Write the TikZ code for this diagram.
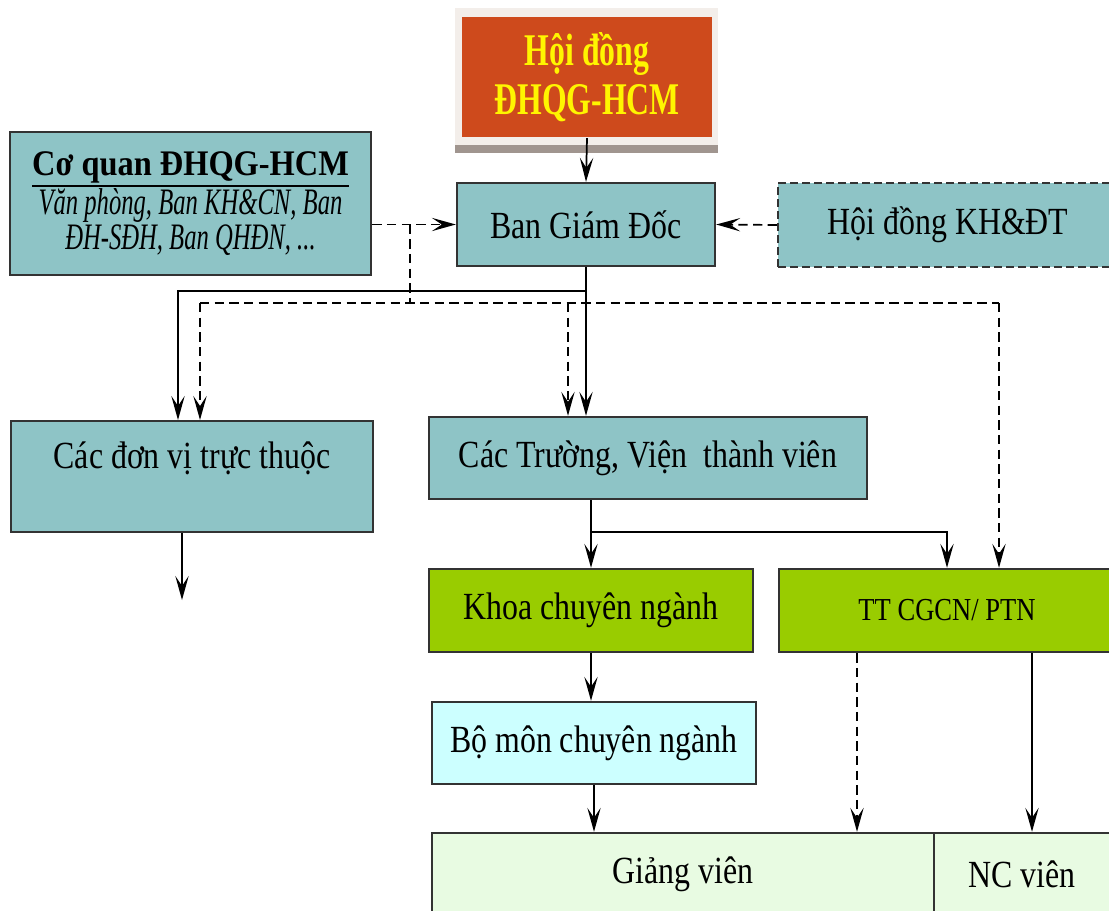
\documentclass[tikz,border=0pt]{standalone}
\usepackage{fontspec}
\setmainfont{Liberation Serif}
\usetikzlibrary{arrows.meta}

\definecolor{boxteal}{HTML}{8EC4C6}
\definecolor{boxgreen}{HTML}{99CC00}
\definecolor{boxcyan}{HTML}{CCFFFF}
\definecolor{boxmint}{HTML}{E8FBE2}
\definecolor{boxred}{HTML}{CE4A1C}
\definecolor{titleyellow}{HTML}{FFF500}
\definecolor{boxline}{HTML}{333333}
\definecolor{framelight}{HTML}{F3EEEA}
\definecolor{framebar}{HTML}{A0958F}

% tall, slightly narrowed text as in the slide
\newcommand{\tallfont}[3]{\fontsize{#1}{#2}\selectfont\addfontfeature{FakeStretch=#3}}
\newcommand{\thickul}[1]{\vtop{\hbox{#1}\kern1.2pt\hrule height 1.8pt}}

\tikzset{
  orgbox/.style={draw=boxline, line width=1.8pt, fill=boxteal, inner sep=0pt, align=center,
    font=\tallfont{28.8}{32}{0.83}},
  link/.style={line width=1.3pt, -{Stealth[length=18pt,width=10pt,inset=7.5pt]}},
  plainlink/.style={line width=1.3pt},
  dashlink/.style={link, dash pattern=on 7pt off 4pt},
  plaindash/.style={plainlink, dash pattern=on 7pt off 4pt},
}

\begin{document}
\begin{tikzpicture}[x=0.75pt,y=0.75pt,yscale=-1,xscale=1]
\useasboundingbox (0,0) rectangle (1109,910);
\clip (0,0) rectangle (1109,910);
\fill[white] (0,0) rectangle (1109,910);

%Shape: frame behind the council box
\fill[framelight] (455,8) rectangle (718,153);
\fill[framebar] (455,145) rectangle (718,153);

% Text Node
\node[orgbox, draw=none, fill=boxred, minimum width=187.5pt, minimum height=90pt, text=titleyellow,
  font=\bfseries\tallfont{34}{36.75}{0.7}] (hdong) at (587,77) {Hội đồng\\ĐHQG-HCM};
% Text Node
\node[orgbox, minimum width=193.5pt, minimum height=62.25pt] (bgd) at (586,224.5) {Ban Giám Đốc};
% Text Node
\node[orgbox, minimum width=270.75pt, minimum height=107.25pt, font=\tallfont{27}{26.25}{0.9}] (coquan) at (190.5,203.5)
  {\textbf{\thickul{Cơ quan ĐHQG-HCM}}\\
   {\itshape\tallfont{28}{26.25}{0.66}Văn phòng, Ban KH\&CN, Ban}\\
   {\itshape\tallfont{28}{26.25}{0.66}ĐH-SĐH, Ban QHĐN, ...}};
% Text Node
\node[orgbox, line width=1.5pt, dash pattern=on 6pt off 3pt, minimum width=255pt, minimum height=63pt] (hdkh) at (948,225) {Hội đồng KH\&ĐT};
% Text Node
\node[orgbox, anchor=north, minimum width=271.5pt, text height=35.25pt, text depth=48pt] (donvi) at (192,420) {Các đơn vị trực thuộc};
% Text Node
\node[orgbox, minimum width=328.5pt, minimum height=61.5pt] (truong) at (648,458) {Các Trường, Viện~ thành viên};
% Text Node
\node[orgbox, fill=boxgreen, minimum width=243pt, minimum height=62.25pt] (khoa) at (591,610.5) {Khoa chuyên ngành};
% Text Node
\node[orgbox, fill=boxgreen, minimum width=252pt, minimum height=62.25pt, font=\tallfont{24}{28}{0.83}] (ttcg) at (947,610.5) {TT CGCN/ PTN};
% Text Node
\node[orgbox, fill=boxcyan, minimum width=243pt, minimum height=61.5pt] (bomon) at (594,743) {Bộ môn chuyên ngành};
% Text Node
\node[orgbox, fill=boxmint, minimum width=376.5pt, minimum height=61.5pt] (giang) at (683,874) {Giảng viên};
% Text Node
\node[orgbox, fill=boxmint, minimum width=132pt, minimum height=61.5pt] (ncv) at (1022,874) {NC viên};

% bus points
\coordinate (tap) at (410,224.5);
\coordinate (dL) at (200,303);
\coordinate (dR) at (999,303);
\coordinate (sL) at (178,291);
\coordinate (dvend) at (182,600);

%Straight Lines
\draw[link] (hdong.south) -- (bgd.north);
\draw[link] (bgd.south) -- (bgd.south |- truong.north);
\draw[link] (bgd.south |- sL) -- (sL) -- (sL |- donvi.north);
\draw[link] (182,0 |- donvi.south) -- (dvend);
\draw[link] (khoa.north |- truong.south) -- (khoa.north);
\draw[link] (khoa.north |- 0,532) -| (ttcg.north);
\draw[link] (khoa.south) -- (khoa.south |- bomon.north);
\draw[link] (bomon.south) -- (bomon.south |- giang.north);
\draw[link] (1032,0 |- ttcg.south) -- (1032,0 |- ncv.north);

%Dashed Lines
\draw[dashlink] (coquan.east |- bgd.west) -- (bgd.west);
\draw[dashlink] (hdkh.west) -- (bgd.east);
\draw[plaindash] (tap) -- (tap |- dL);
\draw[plaindash] (dL) -- (dR);
\draw[dashlink] (dL) -- (dL |- donvi.north);
\draw[dashlink] (dL -| 568,0) -- (568,0 |- truong.north);
\draw[dashlink] (dR) -- (dR |- ttcg.north);
\draw[dashlink] (857,0 |- ttcg.south) -- (857,0 |- giang.north);

\end{tikzpicture}
\end{document}
